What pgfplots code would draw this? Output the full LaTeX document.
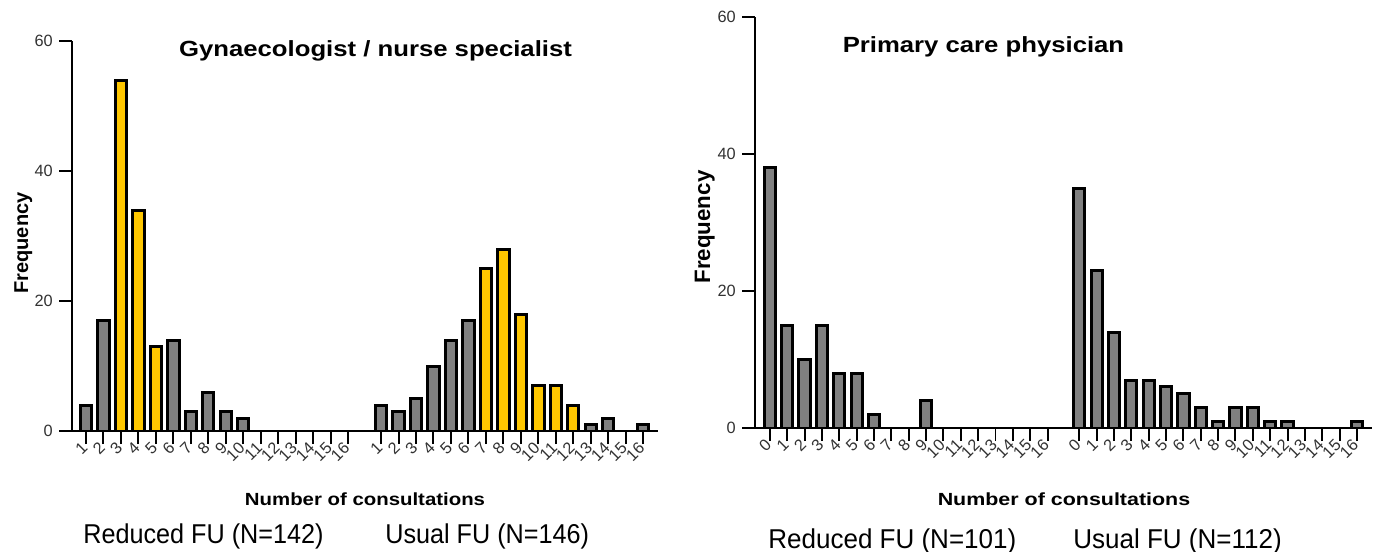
\documentclass[border=0pt]{standalone}
\usepackage{fontspec}
\setmainfont{Liberation Sans}
\usepackage{graphicx}
\usepackage{pgfplots}
\pgfplotsset{compat=1.18}
\definecolor{bargray}{RGB}{128,128,128}
\definecolor{baryellow}{RGB}{255,199,0}
\definecolor{ticktext}{RGB}{50,50,50}

\pgfplotsset{
  fuaxis/.style={
    scale only axis,
    axis x line=bottom, axis y line=left,
    axis line style={-, line width=0.04cm, black},
    ymin=0, ymax=60, ytick={0,20,40,60},
    tick align=outside,
    major tick length=0.26cm,
    tick style={black, line width=0.04cm},
    yticklabel style={font=\fontsize{9.3}{11}\selectfont, text=ticktext},
    xticklabel style={rotate=45, anchor=east, inner sep=1pt,
      font=\fontsize{9.3}{11}\selectfont, text=ticktext},
    /pgf/number format/assume math mode=true,
    ybar, bar width=0.65,
  },
  gbar/.style={fill=bargray, draw=black, line width=0.06cm, bar shift=0pt},
  ybarc/.style={fill=baryellow, draw=black, line width=0.06cm, bar shift=0pt},
}

\begin{document}
\begin{tikzpicture}
\path[use as bounding box] (0,0) rectangle (27.6,11.02);

% left: gynaecologist / nurse specialist
\begin{axis}[fuaxis,
  at={(1.44cm,2.40cm)}, anchor=south west,
  width=11.72cm, height=7.80cm,
  xmin=0.2, xmax=33.74,
  xtick={1,2,3,4,5,6,7,8,9,10,11,12,13,14,15,16,
         17.89,18.89,19.89,20.89,21.89,22.89,23.89,24.89,25.89,26.89,27.89,28.89,29.89,30.89,31.89,32.89},
  xticklabels={1,2,3,4,5,6,7,8,9,10,11,12,13,14,15,16,
               1,2,3,4,5,6,7,8,9,10,11,12,13,14,15,16},
]
% reduced FU
\addplot[gbar] coordinates {(1,4) (2,17) (6,14) (7,3) (8,6) (9,3) (10,2)};
\addplot[ybarc] coordinates {(3,54) (4,34) (5,13)};
% usual FU
\addplot[gbar] coordinates {(17.89,4) (18.89,3) (19.89,5) (20.89,10) (21.89,14) (22.89,17)
  (29.89,1) (30.89,2) (32.89,1)};
\addplot[ybarc] coordinates {(23.89,25) (24.89,28) (25.89,18) (26.89,7) (27.89,7) (28.89,4)};
\end{axis}

% right: primary care physician
\begin{axis}[fuaxis,
  at={(15.10cm,2.46cm)}, anchor=south west,
  width=12.34cm, height=8.22cm,
  xmin=-0.86, xmax=34.7,
  xtick={0,1,2,3,4,5,6,7,8,9,10,11,12,13,14,15,16,
         17.83,18.83,19.83,20.83,21.83,22.83,23.83,24.83,25.83,26.83,27.83,28.83,29.83,30.83,31.83,32.83,33.83},
  xticklabels={0,1,2,3,4,5,6,7,8,9,10,11,12,13,14,15,16,
               0,1,2,3,4,5,6,7,8,9,10,11,12,13,14,15,16},
]
\addplot[gbar] coordinates {(0,38) (1,15) (2,10) (3,15) (4,8) (5,8) (6,2) (9,4)};
\addplot[gbar] coordinates {(17.83,35) (18.83,23) (19.83,14) (20.83,7) (21.83,7) (22.83,6)
  (23.83,5) (24.83,3) (25.83,1) (26.83,3) (27.83,3) (28.83,1) (29.83,1) (33.83,1)};
\end{axis}

% titles and labels
\node[anchor=base] at (7.51,9.88) {\scalebox{1.17}[1]{\fontsize{12.5}{15}\selectfont\bfseries Gynaecologist / nurse specialist}};
\node[anchor=base] at (19.67,9.96) {\scalebox{1.17}[1]{\fontsize{12.5}{15}\selectfont\bfseries Primary care physician}};
\node[anchor=base, rotate=90] at (0.56,6.16) {\fontsize{11.4}{14}\selectfont\bfseries Frequency};
\node[anchor=base, rotate=90] at (14.20,6.48) {\fontsize{12.7}{15}\selectfont\bfseries Frequency};
\node[anchor=base] at (7.30,0.92) {\scalebox{1.16}[1]{\fontsize{10}{12}\selectfont\bfseries Number of consultations}};
\node[anchor=base] at (21.28,0.92) {\scalebox{1.22}[1]{\fontsize{10}{12}\selectfont\bfseries Number of consultations}};
\node[anchor=base west, inner sep=0pt] at (1.66,0.16) {\scalebox{0.925}[1]{\fontsize{15.5}{18}\selectfont Reduced FU (N=142)}};
\node[anchor=base west, inner sep=0pt] at (7.70,0.16) {\scalebox{0.925}[1]{\fontsize{15.5}{18}\selectfont Usual FU (N=146)}};
\node[anchor=base west, inner sep=0pt] at (15.36,0.06) {\scalebox{0.955}[1]{\fontsize{15.5}{18}\selectfont Reduced FU (N=101)}};
\node[anchor=base west, inner sep=0pt] at (21.46,0.06) {\scalebox{0.955}[1]{\fontsize{15.5}{18}\selectfont Usual FU (N=112)}};
\end{tikzpicture}
\end{document}
